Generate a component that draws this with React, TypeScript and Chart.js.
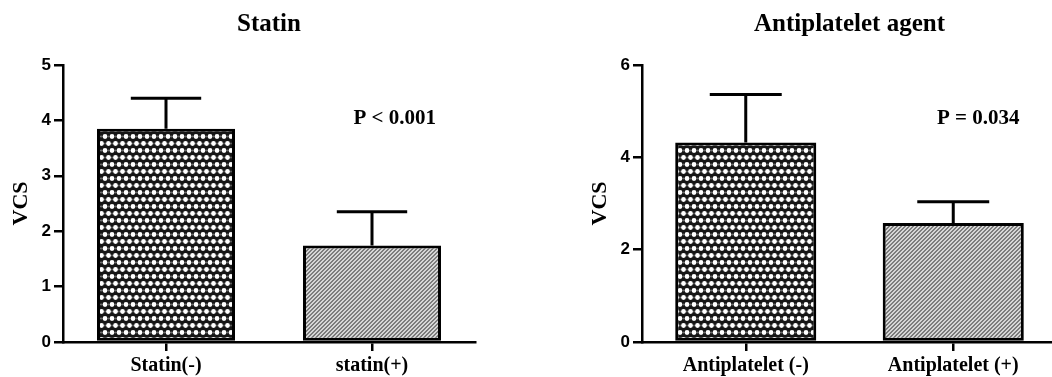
import { useEffect, useRef } from "react";
import { Chart, registerables } from "chart.js";

Chart.register(...registerables);

// ---- data ----
const statinTitle = "Statin";
const statinCategories = ["Statin(-)", "statin(+)"];
const statinMeans = [3.85, 1.74];
const statinErrors = [0.55, 0.61];
const statinTicks = [0, 1, 2, 3, 4, 5];
const statinP = "P < 0.001";

const antiTitle = "Antiplatelet agent";
const antiCategories = ["Antiplatelet (-)", "Antiplatelet (+)"];
const antiMeans = [4.32, 2.58];
const antiErrors = [1.04, 0.46];
const antiTicks = [0, 2, 4, 6];
const antiP = "P = 0.034";

const yAxisLabel = "VCS";

const SERIF = '"Liberation Serif", "Times New Roman", serif';
const SANS = '"Liberation Sans", Arial, sans-serif';

function makeDotPattern(): CanvasPattern | string {
  const w = 7;
  const h = 14;
  const c = document.createElement("canvas");
  c.width = w;
  c.height = h;
  const g = c.getContext("2d");
  if (!g) return "#555";
  g.fillStyle = "#161616";
  g.fillRect(0, 0, w, h);
  g.fillStyle = "#ffffff";
  const pts = [
    [3.5, 3.5],
    [0, 10.5],
    [7, 10.5],
  ];
  for (const [x, y] of pts) {
    g.beginPath();
    g.arc(x, y, 2.4, 0, Math.PI * 2);
    g.fill();
  }
  // small grey specks between dots (crosshatch intersections)
  g.fillStyle = "#6a6a6a";
  const specks = [
    [0, 3.5],
    [7, 3.5],
    [3.5, 10.5],
  ];
  for (const [x, y] of specks) {
    g.beginPath();
    g.arc(x, y, 0.9, 0, Math.PI * 2);
    g.fill();
  }
  return g.createPattern(c, "repeat") || "#555";
}

function makeHatchPattern(): CanvasPattern | string {
  const c = document.createElement("canvas");
  c.width = 4;
  c.height = 4;
  const g = c.getContext("2d");
  if (!g) return "#aaa";
  const img = g.createImageData(4, 4);
  for (let y = 0; y < 4; y++) {
    for (let x = 0; x < 4; x++) {
      const dark = (x + y) % 4 < 2;
      const v = dark ? 0x7c : 0xd6;
      const i = (y * 4 + x) * 4;
      img.data[i] = v;
      img.data[i + 1] = v;
      img.data[i + 2] = v;
      img.data[i + 3] = 255;
    }
  }
  g.putImageData(img, 0, 0);
  return g.createPattern(c, "repeat") || "#aaa";
}

const errorBarPlugin = {
  id: "errorBars",
  afterDatasetsDraw(chart: any, _args: any, opts: any) {
    const { ctx } = chart;
    const ds = chart.data.datasets[0];
    const meta = chart.getDatasetMeta(0);
    const yScale = chart.scales.y;
    const errs: number[] = opts.errors || [];
    ctx.save();
    ctx.strokeStyle = "#000";
    ctx.lineWidth = 3;
    ctx.lineCap = "butt";
    meta.data.forEach((bar: any, i: number) => {
      const top = yScale.getPixelForValue(ds.data[i] + errs[i]);
      const half = bar.width * 0.255;
      ctx.beginPath();
      ctx.moveTo(bar.x, bar.y);
      ctx.lineTo(bar.x, top);
      ctx.moveTo(bar.x - half, top);
      ctx.lineTo(bar.x + half, top);
      ctx.stroke();
    });
    ctx.restore();
  },
};

const annotPlugin = {
  id: "annot",
  afterDraw(chart: any, _args: any, opts: any) {
    const { ctx, chartArea } = chart;
    ctx.save();
    ctx.fillStyle = "#000";
    ctx.textAlign = "center";
    ctx.textBaseline = "alphabetic";
    ctx.font = `bold 25px ${SERIF}`;
    ctx.fillText(opts.title, (chartArea.left + chartArea.right) / 2, 31);
    ctx.font = `bold 21px ${SERIF}`;
    ctx.fillText(
      opts.p,
      chartArea.left + opts.pFrac * (chartArea.right - chartArea.left),
      chartArea.top + 59
    );
    ctx.restore();
  },
};

interface PanelProps {
  left: number;
  width: number;
  yWidth: number;
  padRight: number;
  titlePad: number;
  title: string;
  categories: string[];
  means: number[];
  errors: number[];
  ticks: number[];
  p: string;
  pFrac: number;
  barPct: number;
}

function Panel(props: PanelProps) {
  const ref = useRef<HTMLCanvasElement | null>(null);
  useEffect(() => {
    if (!ref.current) return;
    const tickVals = props.ticks;
    const chart = new Chart(ref.current, {
      type: "bar",
      data: {
        labels: props.categories,
        datasets: [
          {
            data: props.means,
            backgroundColor: [makeDotPattern(), makeHatchPattern()] as any,
            borderColor: "#000",
            borderWidth: 3,
            borderSkipped: false,
            categoryPercentage: 1,
            barPercentage: props.barPct,
          },
        ],
      },
      plugins: [errorBarPlugin, annotPlugin],
      options: {
        responsive: false,
        animation: false,
        events: [],
        layout: { padding: { top: 65, right: props.padRight, bottom: 0, left: 0 } },
        plugins: {
          legend: { display: false },
          tooltip: { enabled: false },
          title: { display: false },
          errorBars: { errors: props.errors },
          annot: { title: props.title, p: props.p, pFrac: props.pFrac },
        } as any,
        scales: {
          x: {
            type: "category",
            offset: true,
            grid: {
              display: true,
              offset: false,
              drawOnChartArea: false,
              drawTicks: true,
              tickLength: 9,
              color: "#000",
              lineWidth: 2.5,
            },
            border: { display: true, color: "#000", width: 2.5 },
            ticks: {
              color: "#000",
              font: { family: SERIF, size: 20, weight: "bold" },
              padding: 3,
              autoSkip: false,
              maxRotation: 0,
              minRotation: 0,
            },
            afterFit: (s: any) => {
              s.height = 35;
            },
          },
          y: {
            min: tickVals[0],
            max: tickVals[tickVals.length - 1],
            grid: {
              display: true,
              drawOnChartArea: false,
              drawTicks: true,
              tickLength: 9,
              color: "#000",
              lineWidth: 2.5,
            },
            border: { display: true, color: "#000", width: 2.5 },
            ticks: {
              color: "#000",
              font: { family: SANS, size: 17, weight: "bold" },
              padding: 3,
            },
            afterBuildTicks: (s: any) => {
              s.ticks = tickVals.map((v) => ({ value: v }));
            },
            title: {
              display: true,
              text: yAxisLabel,
              color: "#000",
              font: { family: SERIF, size: 22, weight: "bold" },
              padding: { top: props.titlePad, bottom: 0 },
            },
            afterFit: (s: any) => {
              s.width = props.yWidth;
            },
          },
        },
      } as any,
    });
    return () => chart.destroy();
  }, []);
  return (
    <canvas
      ref={ref}
      width={props.width}
      height={377}
      style={{ position: "absolute", left: props.left, top: 0, width: props.width, height: 377 }}
    />
  );
}

export default function App() {
  return (
    <div
      style={{
        position: "fixed",
        left: 0,
        top: 0,
        width: 1052,
        height: 377,
        overflow: "hidden",
        background: "#fff",
      }}
    >
      <Panel
        left={0}
        width={526}
        yWidth={63}
        padRight={51}
        titlePad={8}
        title={statinTitle}
        categories={statinCategories}
        means={statinMeans}
        errors={statinErrors}
        ticks={statinTicks}
        p={statinP}
        pFrac={0.805}
        barPct={0.67}
      />
      <Panel
        left={526}
        width={540}
        yWidth={116}
        padRight={9}
        titlePad={61}
        title={antiTitle}
        categories={antiCategories}
        means={antiMeans}
        errors={antiErrors}
        ticks={antiTicks}
        p={antiP}
        pFrac={0.81}
        barPct={0.68}
      />
    </div>
  );
}
